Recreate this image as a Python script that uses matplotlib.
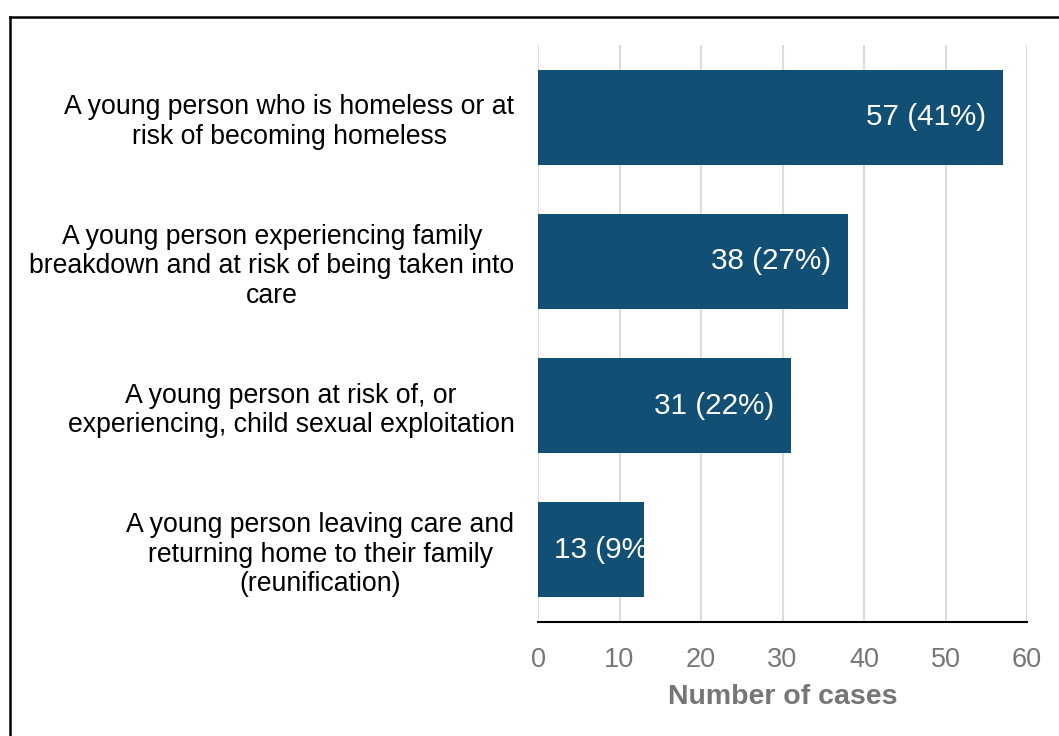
import matplotlib
matplotlib.use("Agg")
import matplotlib.pyplot as plt
from matplotlib.lines import Line2D

plt.rcParams['font.family'] = ['Liberation Sans', 'DejaVu Sans']

categories = [
    "A young person who is homeless or at\nrisk of becoming homeless",
    "A young person experiencing family\nbreakdown and at risk of being taken into\ncare",
    "A young person at risk of, or\nexperiencing, child sexual exploitation",
    "A young person leaving care and\nreturning home to their family\n(reunification)",
]
cases = [57, 38, 31, 13]
shares = [41, 27, 22, 9]
xticks = [0, 10, 20, 30, 40, 50, 60]

bar_color = "#124f75"
grid_color = "#dcdcdc"
tick_color = "#767676"

fig = plt.figure(figsize=(10.59, 7.36), dpi=100)
ax = fig.add_axes([538 / 1059, 114 / 736, (1027 - 538) / 1059, (622 - 45) / 736])

ypos = list(range(len(categories)))
bars = ax.barh(ypos, cases, height=0.66, color=bar_color, zorder=2)

ax.set_xlim(0, 60)
ax.set_ylim(len(categories) - 0.5, -0.5)
ax.set_xticks(xticks)
ax.set_yticks(ypos)
ax.set_yticklabels(categories, fontsize=19.2, color="black", multialignment="center",
                   linespacing=1.18)
ax.tick_params(axis="y", length=0, pad=17)
ax.tick_params(axis="x", length=0, pad=18, labelsize=19.5, labelcolor=tick_color)
ax.grid(axis="x", color=grid_color, linewidth=1.5, zorder=0)
ax.set_axisbelow(True)

for side in ("top", "right", "left"):
    ax.spines[side].set_visible(False)
ax.spines["bottom"].set_color("black")
ax.spines["bottom"].set_linewidth(1.5)
ax.spines["bottom"].set_zorder(3)

ax.set_xlabel("Number of cases", fontsize=20.5, fontweight="bold", color=tick_color, labelpad=8)

for rect, y, v, p in zip(bars, ypos, cases, shares):
    label = f"{v} ({p}%)"
    if v > 20:
        t = ax.text(v - 2, y, label, ha="right", va="center", color="white", fontsize=21.3, zorder=4)
    else:
        t = ax.text(2, y, label, ha="left", va="center", color="white", fontsize=21.3, zorder=4)
    t.set_clip_path(rect)

# open frame around the figure (top and left edges)
fig.add_artist(Line2D([10 / 1059, 10 / 1059], [0, 1 - 17 / 736], transform=fig.transFigure,
                      color="black", linewidth=1.8))
fig.add_artist(Line2D([10 / 1059, 1], [1 - 17 / 736, 1 - 17 / 736], transform=fig.transFigure,
                      color="black", linewidth=1.8))

fig.savefig("out.png", dpi=100)
